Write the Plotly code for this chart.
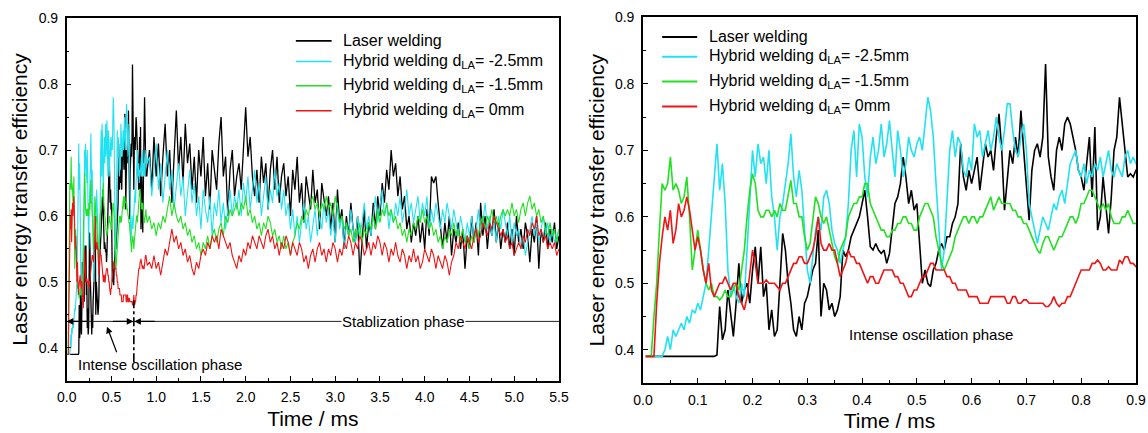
import numpy as np
import plotly.graph_objects as go

# ---------------- data ----------------
# time grid: fine part 0.005..0.900 (step 0.005), coarse part 0.925..5.500 (step 0.025)
t_early = np.round(np.arange(1, 181) * 0.005, 3)
t_late = np.round(0.9 + np.arange(1, 185) * 0.025, 3)
time_ms = np.concatenate([t_early, t_late])

laser_early = [
    0.39, 0.39, 0.39, 0.39, 0.39, 0.39, 0.39, 0.39, 0.39, 0.39,
    0.39, 0.39, 0.39, 0.39, 0.39, 0.39, 0.39, 0.39, 0.39, 0.39,
    0.39, 0.39, 0.39, 0.39, 0.39, 0.39, 0.392, 0.465, 0.415, 0.43,
    0.49, 0.45, 0.42, 0.47, 0.53, 0.47, 0.49, 0.50, 0.47, 0.52,
    0.555, 0.50, 0.555, 0.48, 0.50, 0.43, 0.46, 0.42, 0.43, 0.50,
    0.575, 0.55, 0.50, 0.47, 0.43, 0.42, 0.45, 0.43, 0.47, 0.48,
    0.50, 0.52, 0.53, 0.58, 0.45, 0.50, 0.49, 0.46, 0.47, 0.45,
    0.46, 0.48, 0.55, 0.54, 0.55, 0.57, 0.58, 0.59, 0.60, 0.62,
    0.64, 0.60, 0.555, 0.55, 0.56, 0.55, 0.545, 0.55, 0.53, 0.545,
    0.58, 0.62, 0.63, 0.65, 0.69, 0.66, 0.62, 0.64, 0.61, 0.62,
    0.56, 0.50, 0.52, 0.50, 0.495, 0.52, 0.53, 0.55, 0.56, 0.55,
    0.57, 0.57, 0.59, 0.60, 0.62, 0.71, 0.66, 0.64, 0.67, 0.65,
    0.67, 0.69, 0.64, 0.68, 0.71, 0.69, 0.70, 0.67, 0.72, 0.755,
    0.70, 0.61, 0.66, 0.70, 0.68, 0.72, 0.69, 0.76, 0.70, 0.64,
    0.595, 0.67, 0.70, 0.71, 0.69, 0.72, 0.83, 0.69, 0.66, 0.64,
    0.70, 0.72, 0.70, 0.74, 0.75, 0.74, 0.72, 0.70, 0.67, 0.66,
    0.64, 0.68, 0.72, 0.63, 0.735, 0.58, 0.60, 0.66, 0.62, 0.575,
    0.63, 0.70, 0.72, 0.78, 0.74, 0.70, 0.66, 0.665, 0.66, 0.67,
]
laser_late = [
    0.70, 0.64, 0.72, 0.66, 0.71, 0.63, 0.69, 0.74, 0.66, 0.70, 0.62, 0.68, 0.76, 0.67, 0.72, 0.65, 0.74, 0.68, 0.71, 0.64,
    0.69, 0.62, 0.70, 0.66, 0.72, 0.63, 0.68, 0.61, 0.70, 0.67, 0.64, 0.71, 0.75, 0.66, 0.69, 0.60, 0.67, 0.70, 0.63, 0.66,
    0.68, 0.64, 0.71, 0.765, 0.69, 0.72, 0.66, 0.63, 0.67, 0.62, 0.69, 0.65, 0.68, 0.61, 0.67, 0.70, 0.64, 0.69, 0.62, 0.66,
    0.68, 0.63, 0.66, 0.60, 0.67, 0.64, 0.69, 0.62, 0.65, 0.59, 0.66, 0.63, 0.61, 0.67, 0.62, 0.64, 0.58, 0.65, 0.62, 0.60,
    0.63, 0.58, 0.62, 0.56, 0.64, 0.59, 0.61, 0.55, 0.60, 0.57, 0.62, 0.58, 0.56, 0.60, 0.51, 0.57, 0.61, 0.55, 0.59, 0.57,
    0.62, 0.58, 0.63, 0.60, 0.65, 0.62, 0.67, 0.64, 0.70, 0.66, 0.68, 0.63, 0.66, 0.61, 0.63, 0.58, 0.60, 0.56, 0.59, 0.57,
    0.60, 0.56, 0.59, 0.55, 0.61, 0.57, 0.66, 0.65, 0.66, 0.62, 0.58, 0.55, 0.59, 0.56, 0.60, 0.54, 0.58, 0.56, 0.59, 0.55,
    0.58, 0.52, 0.57, 0.55, 0.60, 0.56, 0.59, 0.54, 0.62, 0.57, 0.60, 0.55, 0.59, 0.57, 0.61, 0.56, 0.59, 0.55, 0.58, 0.56,
    0.59, 0.55, 0.58, 0.54, 0.60, 0.56, 0.58, 0.55, 0.59, 0.57, 0.53, 0.58, 0.56, 0.60, 0.52, 0.58, 0.56, 0.59, 0.55, 0.58,
    0.56, 0.59, 0.55, 0.57,
]

hyb25_early = [
    0.39, 0.39, 0.39, 0.39, 0.39, 0.39, 0.39, 0.40, 0.42, 0.40,
    0.43, 0.42, 0.43, 0.44, 0.43, 0.45, 0.44, 0.46, 0.455, 0.47,
    0.46, 0.48, 0.50, 0.55, 0.60, 0.65, 0.71, 0.64, 0.68, 0.62,
    0.52, 0.48, 0.50, 0.48, 0.47, 0.50, 0.48, 0.55, 0.62, 0.70,
    0.66, 0.71, 0.68, 0.69, 0.65, 0.70, 0.63, 0.60, 0.55, 0.60,
    0.62, 0.65, 0.68, 0.725, 0.66, 0.63, 0.67, 0.64, 0.58, 0.52,
    0.50, 0.54, 0.58, 0.60, 0.58, 0.63, 0.64, 0.62, 0.58, 0.56,
    0.55, 0.53, 0.55, 0.57, 0.62, 0.70, 0.73, 0.66, 0.74, 0.72,
    0.66, 0.63, 0.69, 0.72, 0.68, 0.70, 0.74, 0.69, 0.71, 0.745,
    0.70, 0.66, 0.73, 0.70, 0.66, 0.68, 0.72, 0.70, 0.69, 0.71,
    0.72, 0.70, 0.74, 0.78, 0.76, 0.72, 0.65, 0.58, 0.52, 0.55,
    0.62, 0.70, 0.73, 0.69, 0.72, 0.71, 0.67, 0.66, 0.69, 0.67,
    0.74, 0.72, 0.73, 0.69, 0.71, 0.73, 0.70, 0.72, 0.75, 0.72,
    0.70, 0.73, 0.77, 0.77, 0.73, 0.70, 0.69, 0.72, 0.74, 0.70,
    0.62, 0.60, 0.58, 0.56, 0.58, 0.60, 0.59, 0.58, 0.60, 0.62,
    0.61, 0.63, 0.64, 0.62, 0.65, 0.68, 0.69, 0.70, 0.67, 0.66,
    0.68, 0.65, 0.67, 0.66, 0.68, 0.67, 0.69, 0.66, 0.68, 0.70,
    0.67, 0.66, 0.68, 0.67, 0.66, 0.69, 0.70, 0.68, 0.69, 0.68,
]
hyb25_late = [
    0.69, 0.63, 0.67, 0.71, 0.64, 0.68, 0.62, 0.66, 0.70, 0.64, 0.67, 0.61, 0.65, 0.68, 0.63, 0.66, 0.60, 0.64, 0.67, 0.62,
    0.65, 0.60, 0.63, 0.58, 0.64, 0.61, 0.59, 0.63, 0.57, 0.62, 0.60, 0.64, 0.59, 0.62, 0.58, 0.61, 0.64, 0.60, 0.63, 0.61,
    0.64, 0.60, 0.65, 0.62, 0.66, 0.61, 0.64, 0.67, 0.62, 0.65, 0.60, 0.63, 0.66, 0.61, 0.64, 0.62, 0.67, 0.63, 0.65, 0.61,
    0.64, 0.60, 0.62, 0.58, 0.61, 0.57, 0.60, 0.56, 0.59, 0.62, 0.58, 0.60, 0.56, 0.59, 0.61, 0.57, 0.60, 0.58, 0.62, 0.59,
    0.61, 0.57, 0.60, 0.56, 0.62, 0.58, 0.60, 0.55, 0.59, 0.57, 0.61, 0.58, 0.56, 0.60, 0.57, 0.59, 0.62, 0.58, 0.60, 0.57,
    0.60, 0.63, 0.59, 0.62, 0.64, 0.60, 0.62, 0.58, 0.61, 0.59, 0.62, 0.60, 0.63, 0.59, 0.61, 0.64, 0.60, 0.62, 0.59, 0.61,
    0.63, 0.59, 0.62, 0.60, 0.63, 0.58, 0.61, 0.59, 0.62, 0.60, 0.58, 0.61, 0.59, 0.62, 0.60, 0.58, 0.61, 0.59, 0.57, 0.60,
    0.58, 0.56, 0.59, 0.57, 0.60, 0.56, 0.58, 0.61, 0.57, 0.59, 0.62, 0.58, 0.60, 0.57, 0.59, 0.56, 0.60, 0.58, 0.61, 0.59,
    0.57, 0.60, 0.56, 0.59, 0.57, 0.58, 0.55, 0.57, 0.54, 0.56, 0.58, 0.60, 0.57, 0.59, 0.56, 0.58, 0.60, 0.57, 0.59, 0.56,
    0.58, 0.56, 0.57, 0.58,
]

hyb15_early = [
    0.39, 0.39, 0.39, 0.45, 0.50, 0.58, 0.65, 0.64, 0.65, 0.69,
    0.64, 0.65, 0.64, 0.62, 0.63, 0.66, 0.60, 0.52, 0.55, 0.58,
    0.55, 0.52, 0.50, 0.49, 0.50, 0.48, 0.48, 0.475, 0.48, 0.49,
    0.48, 0.48, 0.49, 0.50, 0.49, 0.52, 0.55, 0.60, 0.64, 0.665,
    0.65, 0.61, 0.60, 0.60, 0.61, 0.61, 0.60, 0.61, 0.60, 0.62,
    0.61, 0.61, 0.63, 0.655, 0.62, 0.62, 0.60, 0.60, 0.57, 0.55,
    0.56, 0.60, 0.63, 0.62, 0.60, 0.59, 0.60, 0.58, 0.56, 0.54,
    0.53, 0.55, 0.56, 0.57, 0.60, 0.61, 0.62, 0.62, 0.63, 0.63,
    0.65, 0.65, 0.62, 0.61, 0.60, 0.59, 0.58, 0.58, 0.57, 0.57,
    0.58, 0.58, 0.59, 0.59, 0.60, 0.60, 0.59, 0.59, 0.58, 0.58,
    0.60, 0.61, 0.62, 0.62, 0.61, 0.60, 0.57, 0.55, 0.53, 0.52,
    0.53, 0.54, 0.55, 0.57, 0.58, 0.59, 0.60, 0.60, 0.59, 0.60,
    0.60, 0.59, 0.60, 0.60, 0.61, 0.62, 0.63, 0.61, 0.62, 0.63,
    0.62, 0.62, 0.62, 0.62, 0.61, 0.61, 0.60, 0.60, 0.59, 0.59,
    0.58, 0.57, 0.56, 0.55, 0.545, 0.56, 0.57, 0.57, 0.56, 0.55,
    0.56, 0.57, 0.57, 0.58, 0.59, 0.60, 0.60, 0.59, 0.60, 0.62,
    0.62, 0.63, 0.64, 0.64, 0.63, 0.62, 0.61, 0.62, 0.61, 0.62,
    0.60, 0.59, 0.59, 0.59, 0.60, 0.60, 0.61, 0.60, 0.59, 0.59,
]
hyb15_late = [
    0.60, 0.58, 0.59, 0.57, 0.59, 0.58, 0.60, 0.59, 0.61, 0.63, 0.60, 0.62, 0.60, 0.59, 0.60, 0.58, 0.59, 0.57, 0.58, 0.56,
    0.57, 0.55, 0.56, 0.54, 0.56, 0.55, 0.57, 0.55, 0.57, 0.58, 0.56, 0.58, 0.59, 0.57, 0.60, 0.59, 0.61, 0.60, 0.61, 0.62,
    0.60, 0.62, 0.61, 0.63, 0.60, 0.61, 0.59, 0.60, 0.58, 0.59, 0.57, 0.59, 0.58, 0.60, 0.59, 0.57, 0.58, 0.56, 0.57, 0.55,
    0.57, 0.55, 0.56, 0.54, 0.56, 0.57, 0.59, 0.58, 0.60, 0.59, 0.61, 0.60, 0.62, 0.63, 0.61, 0.62, 0.60, 0.62, 0.61, 0.63,
    0.61, 0.62, 0.60, 0.63, 0.61, 0.59, 0.60, 0.58, 0.59, 0.57, 0.58, 0.56, 0.58, 0.57, 0.59, 0.56, 0.58, 0.57, 0.59, 0.58,
    0.60, 0.58, 0.61, 0.59, 0.61, 0.60, 0.62, 0.60, 0.61, 0.59, 0.60, 0.58, 0.59, 0.57, 0.58, 0.56, 0.58, 0.57, 0.59, 0.58,
    0.60, 0.59, 0.61, 0.59, 0.60, 0.58, 0.59, 0.57, 0.58, 0.56, 0.57, 0.55, 0.57, 0.56, 0.58, 0.57, 0.59, 0.57, 0.58, 0.56,
    0.58, 0.56, 0.57, 0.55, 0.57, 0.56, 0.58, 0.57, 0.59, 0.60, 0.58, 0.60, 0.59, 0.61, 0.59, 0.60, 0.58, 0.60, 0.61, 0.60,
    0.61, 0.60, 0.62, 0.60, 0.61, 0.59, 0.61, 0.62, 0.60, 0.62, 0.63, 0.61, 0.62, 0.60, 0.61, 0.59, 0.60, 0.58, 0.57, 0.59,
    0.57, 0.58, 0.56, 0.58,
]

hyb0_early = [
    0.39, 0.39, 0.39, 0.39, 0.47, 0.53, 0.57, 0.60, 0.58, 0.61,
    0.56, 0.58, 0.62, 0.60, 0.61, 0.63, 0.61, 0.58, 0.55, 0.57,
    0.55, 0.52, 0.50, 0.53, 0.49, 0.48, 0.49, 0.50, 0.50, 0.51,
    0.50, 0.49, 0.50, 0.50, 0.48, 0.47, 0.46, 0.48, 0.52, 0.55,
    0.53, 0.50, 0.50, 0.50, 0.505, 0.50, 0.50, 0.50, 0.495, 0.49,
    0.50, 0.50, 0.51, 0.52, 0.53, 0.53, 0.54, 0.54, 0.53, 0.53,
    0.54, 0.55, 0.57, 0.60, 0.56, 0.55, 0.55, 0.56, 0.55, 0.55,
    0.53, 0.51, 0.52, 0.53, 0.55, 0.54, 0.54, 0.53, 0.53, 0.52,
    0.51, 0.50, 0.51, 0.51, 0.50, 0.50, 0.51, 0.52, 0.52, 0.52,
    0.52, 0.51, 0.51, 0.50, 0.50, 0.49, 0.48, 0.48, 0.49, 0.49,
    0.50, 0.51, 0.51, 0.52, 0.53, 0.53, 0.52, 0.52, 0.52, 0.52,
    0.51, 0.51, 0.50, 0.50, 0.49, 0.49, 0.49, 0.49, 0.48, 0.48,
    0.48, 0.48, 0.47, 0.47, 0.47, 0.47, 0.48, 0.48, 0.48, 0.48,
    0.48, 0.48, 0.47, 0.47, 0.48, 0.48, 0.47, 0.47, 0.475, 0.475,
    0.47, 0.47, 0.47, 0.47, 0.47, 0.47, 0.465, 0.465, 0.47, 0.48,
    0.47, 0.465, 0.47, 0.47, 0.48, 0.48, 0.49, 0.50, 0.51, 0.52,
    0.52, 0.52, 0.52, 0.53, 0.53, 0.535, 0.53, 0.52, 0.52, 0.525,
    0.52, 0.52, 0.52, 0.535, 0.53, 0.54, 0.54, 0.53, 0.53, 0.525,
]
hyb0_late = [
    0.53, 0.52, 0.54, 0.52, 0.53, 0.51, 0.53, 0.55, 0.54, 0.56, 0.58, 0.56, 0.57, 0.55, 0.56, 0.54, 0.55, 0.53, 0.54, 0.52,
    0.51, 0.53, 0.52, 0.54, 0.55, 0.54, 0.56, 0.55, 0.57, 0.56, 0.57, 0.55, 0.58, 0.57, 0.56, 0.55, 0.56, 0.54, 0.53, 0.52,
    0.54, 0.53, 0.55, 0.54, 0.56, 0.55, 0.57, 0.56, 0.55, 0.57, 0.56, 0.55, 0.57, 0.58, 0.56, 0.57, 0.55, 0.56, 0.54, 0.56,
    0.55, 0.57, 0.56, 0.54, 0.56, 0.55, 0.54, 0.56, 0.55, 0.53, 0.54, 0.52, 0.54, 0.55, 0.53, 0.55, 0.56, 0.54, 0.55, 0.53,
    0.55, 0.54, 0.56, 0.55, 0.53, 0.55, 0.54, 0.56, 0.55, 0.57, 0.56, 0.54, 0.56, 0.55, 0.57, 0.56, 0.54, 0.55, 0.56, 0.54,
    0.56, 0.55, 0.57, 0.56, 0.54, 0.56, 0.55, 0.53, 0.55, 0.54, 0.56, 0.54, 0.53, 0.55, 0.54, 0.52, 0.54, 0.53, 0.55, 0.53,
    0.54, 0.52, 0.53, 0.55, 0.54, 0.53, 0.55, 0.54, 0.52, 0.54, 0.53, 0.52, 0.54, 0.53, 0.51, 0.53, 0.54, 0.56, 0.55, 0.57,
    0.56, 0.55, 0.57, 0.56, 0.55, 0.57, 0.58, 0.56, 0.57, 0.59, 0.58, 0.57, 0.59, 0.58, 0.60, 0.59, 0.58, 0.57, 0.58, 0.56,
    0.57, 0.55, 0.56, 0.54, 0.55, 0.56, 0.55, 0.57, 0.56, 0.58, 0.57, 0.59, 0.58, 0.60, 0.57, 0.58, 0.56, 0.57, 0.55, 0.56,
    0.55, 0.56, 0.54, 0.55,
]

series_names = [
    "Laser welding",
    "Hybrid welding d<sub>LA</sub>= -2.5mm",
    "Hybrid welding d<sub>LA</sub>= -1.5mm",
    "Hybrid welding d<sub>LA</sub>= 0mm",
]
series_values = [
    laser_early + laser_late,
    hyb25_early + hyb25_late,
    hyb15_early + hyb15_late,
    hyb0_early + hyb0_late,
]
series_colors = ["#000000", "#22E2F2", "#22E022", "#F01414"]
left_widths = [1.3, 1.1, 1.1, 1.1]

x_ticks_left = [0.0, 0.5, 1.0, 1.5, 2.0, 2.5, 3.0, 3.5, 4.0, 4.5, 5.0, 5.5]
x_ticks_right = [0.0, 0.1, 0.2, 0.3, 0.4, 0.5, 0.6, 0.7, 0.8, 0.9]
y_ticks = [0.4, 0.5, 0.6, 0.7, 0.8, 0.9]

for v in series_values:
    assert len(v) == len(time_ms), len(v)

# ---------------- figure ----------------
FONT = "Liberation Sans, Arial, Helvetica, sans-serif"

fig = go.Figure()

for name, vals, col, w in zip(series_names, series_values, series_colors, left_widths):
    fig.add_trace(go.Scatter(x=time_ms, y=vals, mode="lines", name=name,
                             line=dict(color=col, width=w),
                             xaxis="x", yaxis="y", showlegend=False))
for name, vals, col in zip(series_names, series_values, series_colors):
    fig.add_trace(go.Scatter(x=time_ms, y=vals, mode="lines", name=name,
                             line=dict(color=col, width=1.6),
                             xaxis="x2", yaxis="y2", showlegend=False))

axis_common = dict(
    showline=True, linecolor="black", linewidth=1.6, mirror=True,
    ticks="inside", ticklen=5, tickwidth=1.4, tickcolor="black",
    showgrid=False, zeroline=False, automargin=False,
    tickfont=dict(family=FONT, size=14, color="black"),
    title_font=dict(family=FONT, size=21, color="black"),
)
x_common = dict(ticklabelstandoff=3, title_standoff=7, **axis_common)
y_common = dict(ticklabelstandoff=4, title_standoff=5, **axis_common)

fig.update_layout(
    width=1148, height=433,
    margin=dict(l=0, r=0, t=0, b=0),
    paper_bgcolor="white", plot_bgcolor="white",
    xaxis=dict(domain=[0.0581, 0.4869], range=[0, 5.5], tickvals=x_ticks_left,
               tickformat=".1f", anchor="y",
               minor=dict(ticks="inside", ticklen=3, dtick=0.25, tickcolor="black"),
               title_text="Time / ms", **x_common),
    yaxis=dict(domain=[0.1208, 0.9577], range=[0.35, 0.9], tickvals=y_ticks,
               tickformat=".1f", anchor="x",
               minor=dict(ticks="inside", ticklen=3, dtick=0.05, tickcolor="black"),
               title_text="Laser energy transfer efficiency", **y_common),
    xaxis2=dict(domain=[0.5601, 0.9895], range=[0, 0.9], tickvals=x_ticks_right,
                tickformat=".1f", anchor="y2",
                minor=dict(ticks="inside", ticklen=3, dtick=0.05, tickcolor="black"),
                title_text="Time / ms", **x_common),
    yaxis2=dict(domain=[0.1155, 0.9596], range=[0.35, 0.9], tickvals=y_ticks,
                tickformat=".1f", anchor="x2",
                minor=dict(ticks="inside", ticklen=3, dtick=0.05, tickcolor="black"),
                title_text="Laser energy transfer efficiency", **y_common),
)

# ---------------- legends (manual) ----------------
legend_rows_left = [0.8658, 0.8344, 0.7976, 0.7597]
legend_rows_right = [0.8708, 0.8408, 0.8035, 0.7661]
for name, col, yl, yr in zip(series_names, series_colors, legend_rows_left, legend_rows_right):
    fig.add_shape(type="line", xref="x", yref="y", x0=2.56, x1=2.96, y0=yl, y1=yl,
                  line=dict(color=col, width=1.6))
    fig.add_annotation(xref="x", yref="y", x=3.06, y=yl, text=name, showarrow=False,
                       xanchor="left", yanchor="middle",
                       font=dict(family=FONT, size=16, color="black"))
    fig.add_shape(type="line", xref="x2", yref="y2", x0=0.035, x1=0.099, y0=yr, y1=yr,
                  line=dict(color=col, width=2))
    fig.add_annotation(xref="x2", yref="y2", x=0.117, y=yr, text=name, showarrow=False,
                       xanchor="left", yanchor="middle",
                       font=dict(family=FONT, size=16, color="black"))

# ---------------- phase annotations (left) ----------------
fig.add_shape(type="line", xref="x", yref="y", x0=0.0, x1=5.5, y0=0.44, y1=0.44,
              line=dict(color="#222222", width=1))
fig.add_shape(type="line", xref="x", yref="y", x0=0.75, x1=0.75, y0=0.378, y1=0.472,
              line=dict(color="black", width=1.6, dash="dashdot"))
arrow_style = dict(showarrow=True, arrowhead=2, arrowsize=1.1, arrowwidth=1.2,
                   arrowcolor="black", text="", xref="x", yref="y", axref="x", ayref="y")
fig.add_annotation(x=0.0, y=0.44, ax=0.25, ay=0.44, **arrow_style)
fig.add_annotation(x=0.745, y=0.44, ax=0.5, ay=0.44, **arrow_style)
fig.add_annotation(x=0.755, y=0.44, ax=1.0, ay=0.44, **arrow_style)
fig.add_annotation(x=0.45, y=0.432, ax=0.565, ay=0.391, **arrow_style)
fig.add_annotation(xref="x", yref="y", x=3.76, y=0.44, text="Stablization phase",
                   showarrow=False, bgcolor="white", borderpad=0,
                   font=dict(family=FONT, size=15, color="black"))
fig.add_annotation(xref="x", yref="y", x=1.04, y=0.375, text="Intense oscillation phase",
                   showarrow=False,
                   font=dict(family=FONT, size=15, color="black"))
fig.add_annotation(xref="x2", yref="y2", x=0.525, y=0.4225, text="Intense oscillation phase",
                   showarrow=False,
                   font=dict(family=FONT, size=15, color="black"))

fig.write_html("out.html", config={"displayModeBar": False},
               post_script="document.body.style.margin='0';document.body.style.padding='0';")
